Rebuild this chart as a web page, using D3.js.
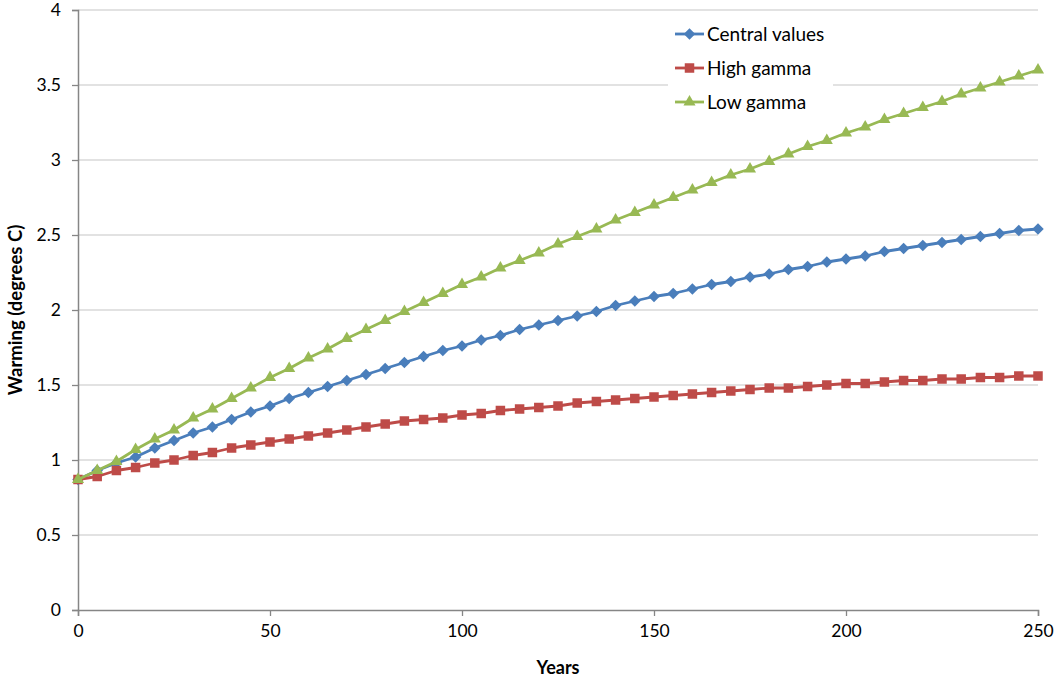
<!DOCTYPE html>
<html><head><meta charset="utf-8">
<script src="https://cdn.jsdelivr.net/npm/d3@7"></script>
<style>body{margin:0;background:#fff}svg{display:block}text{font-family:Lato,"Open Sans",sans-serif;fill:#000}</style>
</head><body><svg id="c" width="1058" height="679"></svg>
<script>
const years = d3.range(0, 251, 5);
const xTicks = [0, 50, 100, 150, 200, 250];
const yTicks = [0, 0.5, 1, 1.5, 2, 2.5, 3, 3.5, 4];
const seriesNames = ["Central values", "High gamma", "Low gamma"];
const central = [0.87,0.93,0.98,1.02,1.08,1.13,1.18,1.22,1.27,1.32,1.36,1.41,1.45,1.49,1.53,1.57,1.61,1.65,1.69,1.73,1.76,1.80,1.83,1.87,1.90,1.93,1.96,1.99,2.03,2.06,2.09,2.11,2.14,2.17,2.19,2.22,2.24,2.27,2.29,2.32,2.34,2.36,2.39,2.41,2.43,2.45,2.47,2.49,2.51,2.53,2.54];
const highGamma = [0.87,0.89,0.93,0.95,0.98,1.00,1.03,1.05,1.08,1.10,1.12,1.14,1.16,1.18,1.20,1.22,1.24,1.26,1.27,1.28,1.30,1.31,1.33,1.34,1.35,1.36,1.38,1.39,1.40,1.41,1.42,1.43,1.44,1.45,1.46,1.47,1.48,1.48,1.49,1.50,1.51,1.51,1.52,1.53,1.53,1.54,1.54,1.55,1.55,1.56,1.56];
const lowGamma = [0.87,0.93,0.99,1.07,1.14,1.20,1.28,1.34,1.41,1.48,1.55,1.61,1.68,1.74,1.81,1.87,1.93,1.99,2.05,2.11,2.17,2.22,2.28,2.33,2.38,2.44,2.49,2.54,2.60,2.65,2.70,2.75,2.80,2.85,2.90,2.94,2.99,3.04,3.09,3.13,3.18,3.22,3.27,3.31,3.35,3.39,3.44,3.48,3.52,3.56,3.60];

const colors = ["#4A7EBB", "#BE4B48", "#98B954"];
const symbols = [d3.symbolDiamond2, d3.symbolSquare2, d3.symbolTriangle2];
const symSizes = [85, 115, 105];
const data = [central, highGamma, lowGamma];

const svg = d3.select("#c");
const m = {l: 78, r: 20, t: 10, b: 69};
const W = 1058, H = 679;
const x = d3.scaleLinear().domain([0, 250]).range([m.l, W - m.r]);
const y = d3.scaleLinear().domain([0, 4]).range([H - m.b, m.t]);

// gridlines
svg.append("g").selectAll("line").data(yTicks.filter(d => d > 0)).join("line")
  .attr("x1", x(0)).attr("x2", x(250)).attr("y1", d => y(d)).attr("y2", d => y(d))
  .attr("stroke", "#D9D9D9").attr("stroke-width", 1.3);

// axes
const yAxis = svg.append("g").attr("transform", `translate(${x(0)},0)`)
  .call(d3.axisLeft(y).tickValues(yTicks).tickSize(6).tickPadding(11).tickFormat(d3.format("")));
const xAxis = svg.append("g").attr("transform", `translate(0,${y(0)})`)
  .call(d3.axisBottom(x).tickValues(xTicks).tickSize(6).tickPadding(9));
[yAxis, xAxis].forEach(a => {
  a.select(".domain").attr("stroke", "#868686").attr("stroke-width", 1.5);
  a.selectAll(".tick line").attr("stroke", "#868686").attr("stroke-width", 1.3);
  a.selectAll("text").attr("font-size", 17.5).attr("font-family", "Lato,'Open Sans',sans-serif").attr("fill", "#000");
});

// series
const line = d3.line().x((d, i) => x(years[i])).y(d => y(d));
data.forEach((vals, s) => {
  const g = svg.append("g");
  g.append("path").datum(vals).attr("d", line).attr("fill", "none")
    .attr("stroke", colors[s]).attr("stroke-width", 2.8).attr("stroke-linejoin", "round");
  g.selectAll("path.m").data(vals).join("path").attr("class", "m")
    .attr("d", d3.symbol().type(symbols[s]).size(symSizes[s]))
    .attr("transform", (d, i) => `translate(${x(years[i])},${y(d)})`)
    .attr("fill", colors[s]);
});

// legend
const lg = svg.append("g");
lg.append("rect").attr("x", 668).attr("y", 18).attr("width", 165).attr("height", 100).attr("fill", "#fff");
seriesNames.forEach((n, s) => {
  const ly = 34 + s * 34;
  lg.append("line").attr("x1", 675).attr("x2", 704).attr("y1", ly).attr("y2", ly)
    .attr("stroke", colors[s]).attr("stroke-width", 2.8);
  lg.append("path").attr("d", d3.symbol().type(symbols[s]).size(symSizes[s])())
    .attr("transform", `translate(689.5,${ly})`).attr("fill", colors[s]);
  lg.append("text").attr("x", 707).attr("y", ly).attr("dy", "0.36em")
    .attr("font-size", 19).text(n);
});

// axis titles
svg.append("text").attr("x", (x(0) + x(250)) / 2).attr("y", 674).attr("text-anchor", "middle")
  .attr("font-size", 18).attr("font-weight", "bold").text("Years");
svg.append("text").attr("transform", `translate(22,${y(2)}) rotate(-90)`).attr("text-anchor", "middle")
  .attr("font-size", 18.5).attr("font-weight", "bold").text("Warming (degrees C)");
</script></body></html>
